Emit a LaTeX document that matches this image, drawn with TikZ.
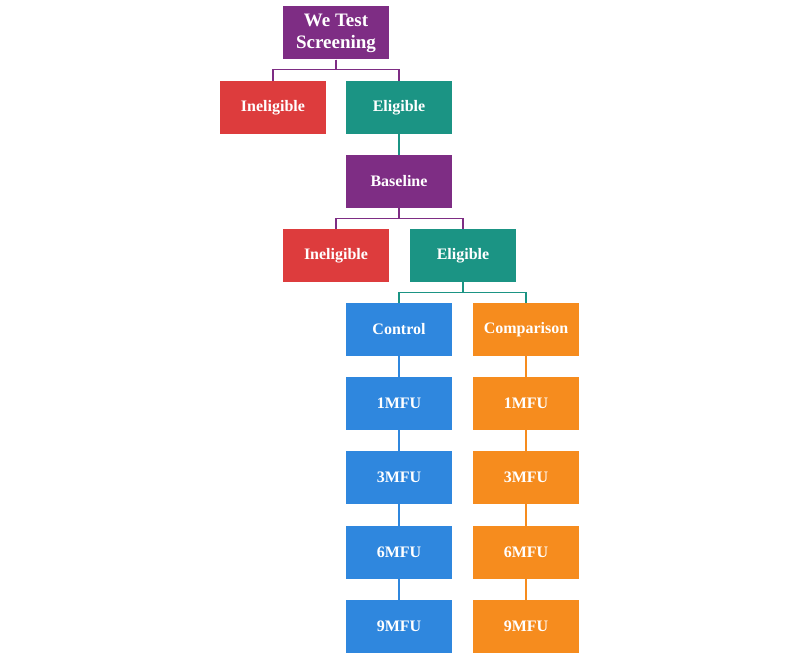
\documentclass[tikz,border=0pt]{standalone}
\usepackage{fontspec}
\setmainfont{Liberation Serif}
\begin{document}
\begin{tikzpicture}[x=1pt,y=-1pt,
  bx/.style={draw=none,minimum width=106pt,minimum height=53pt,inner sep=0pt,text=white,font=\bfseries\fontsize{16}{18}\selectfont,align=center},
  ln/.style={line width=1.3pt}]
\definecolor{cpur}{HTML}{7E2D84}
\definecolor{cred}{HTML}{DD3C3D}
\definecolor{cteal}{HTML}{1B9484}
\definecolor{cblue}{HTML}{2F87DE}
\definecolor{corg}{HTML}{F68C1E}
\useasboundingbox (0,0) rectangle (800,655);
\node[bx,fill=cpur,font=\bfseries\fontsize{19}{22}\selectfont] (top) at (336,33) {We Test\\Screening};
\node[bx,fill=cred] (in1) at (273,107.5) {\raisebox{-2pt}{Ineligible}};
\node[bx,fill=cteal] (el1) at (399,107.5) {\raisebox{-2pt}{Eligible}};
\node[bx,fill=cpur] (base) at (399,181.5) {\raisebox{-2pt}{Baseline}};
\node[bx,fill=cred] (in2) at (336,255.5) {\raisebox{-2pt}{Ineligible}};
\node[bx,fill=cteal] (el2) at (463,255.5) {\raisebox{-2pt}{Eligible}};
\node[bx,fill=cblue] (c0) at (399,329.5) {\raisebox{-2pt}{Control}};
\node[bx,fill=corg] (k0) at (526,329.5) {\raisebox{-2pt}{Comparison}};
\foreach \i/\y/\t in {1/403.5/1MFU,2/477.5/3MFU,3/552.5/6MFU,4/626.5/9MFU}{
  \node[bx,fill=cblue] (c\i) at (399,\y) {\raisebox{-2pt}{\t}};
  \node[bx,fill=corg] (k\i) at (526,\y) {\raisebox{-2pt}{\t}};
}
\draw[ln,cpur] (top.south) -- ++(0,10) -| (in1.north);
\draw[ln,cpur] (top.south) -- ++(0,10) -| (el1.north);
\draw[ln,cteal] (el1.south) -- (base.north);
\draw[ln,cpur] (base.south) -- ++(0,10) -| (in2.north);
\draw[ln,cpur] (base.south) -- ++(0,10) -| (el2.north);
\draw[ln,cteal] (el2.south) -- ++(0,10) -| (c0.north);
\draw[ln,cteal] (el2.south) -- ++(0,10) -| (k0.north);
\foreach \a/\b in {0/1,1/2,2/3,3/4}{
  \draw[ln,cblue] (c\a.south) -- (c\b.north);
  \draw[ln,corg] (k\a.south) -- (k\b.north);
}
\end{tikzpicture}
\end{document}
